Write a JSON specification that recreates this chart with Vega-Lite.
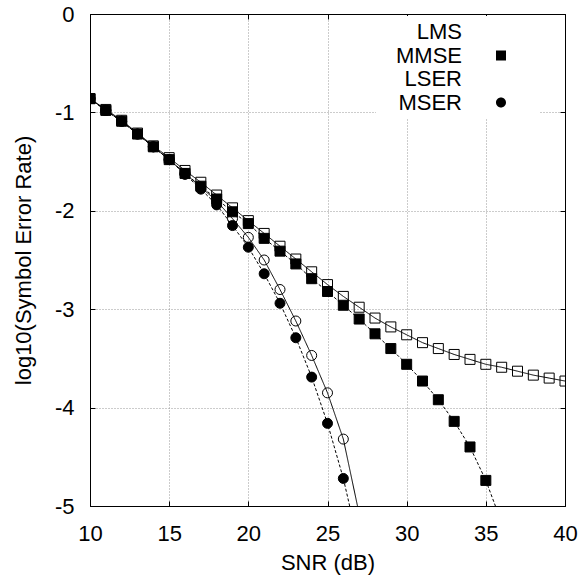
{
  "$schema": "https://vega.github.io/schema/vega-lite/v6.json",
  "autosize": "none",
  "width": 475,
  "height": 492,
  "padding": {"left": 90, "top": 14, "right": 15, "bottom": 75},
  "background": "white",
  "config": {
    "view": {"stroke": "black", "strokeWidth": 1},
    "font": "Liberation Sans",
    "axis": {
      "domainColor": "black",
      "tickColor": "black",
      "labelColor": "black",
      "titleColor": "black",
      "labelFont": "Liberation Sans",
      "titleFont": "Liberation Sans",
      "labelFontSize": 22,
      "titleFontSize": 22,
      "titleFontWeight": "normal",
      "gridColor": "#999999",
      "gridDash": [1, 2],
      "gridWidth": 1,
      "gridOpacity": 1,
      "tickSize": -5,
      "labelFlush": false
    },
    "legend": {
      "orient": "none",
      "legendX": 286,
      "legendY": 2,
      "padding": 5,
      "fillColor": "white",
      "labelAlign": "right",
      "labelOffset": -50,
      "symbolOffset": 109,
      "symbolSize": 100,
      "symbolStrokeColor": "black",
      "symbolStrokeWidth": 1,
      "symbolOpacity": 1,
      "rowPadding": 1.5,
      "labelFontSize": 22,
      "labelFont": "Liberation Sans",
      "labelColor": "black",
      "labelLimit": 200
    }
  },
  "data": {
    "values": [
      {"snr": 10, "ser": -0.86, "series": "LMS"},
      {"snr": 11, "ser": -0.97, "series": "LMS"},
      {"snr": 12, "ser": -1.08, "series": "LMS"},
      {"snr": 13, "ser": -1.21, "series": "LMS"},
      {"snr": 14, "ser": -1.34, "series": "LMS"},
      {"snr": 15, "ser": -1.46, "series": "LMS"},
      {"snr": 16, "ser": -1.59, "series": "LMS"},
      {"snr": 17, "ser": -1.71, "series": "LMS"},
      {"snr": 18, "ser": -1.84, "series": "LMS"},
      {"snr": 19, "ser": -1.97, "series": "LMS"},
      {"snr": 20, "ser": -2.10, "series": "LMS"},
      {"snr": 21, "ser": -2.23, "series": "LMS"},
      {"snr": 22, "ser": -2.36, "series": "LMS"},
      {"snr": 23, "ser": -2.49, "series": "LMS"},
      {"snr": 24, "ser": -2.62, "series": "LMS"},
      {"snr": 25, "ser": -2.75, "series": "LMS"},
      {"snr": 26, "ser": -2.87, "series": "LMS"},
      {"snr": 27, "ser": -2.98, "series": "LMS"},
      {"snr": 28, "ser": -3.09, "series": "LMS"},
      {"snr": 29, "ser": -3.18, "series": "LMS"},
      {"snr": 30, "ser": -3.26, "series": "LMS"},
      {"snr": 31, "ser": -3.34, "series": "LMS"},
      {"snr": 32, "ser": -3.40, "series": "LMS"},
      {"snr": 33, "ser": -3.46, "series": "LMS"},
      {"snr": 34, "ser": -3.51, "series": "LMS"},
      {"snr": 35, "ser": -3.56, "series": "LMS"},
      {"snr": 36, "ser": -3.59, "series": "LMS"},
      {"snr": 37, "ser": -3.63, "series": "LMS"},
      {"snr": 38, "ser": -3.67, "series": "LMS"},
      {"snr": 39, "ser": -3.70, "series": "LMS"},
      {"snr": 40, "ser": -3.73, "series": "LMS"},
      {"snr": 10, "ser": -0.86, "series": "MMSE"},
      {"snr": 11, "ser": -0.98, "series": "MMSE"},
      {"snr": 12, "ser": -1.09, "series": "MMSE"},
      {"snr": 13, "ser": -1.22, "series": "MMSE"},
      {"snr": 14, "ser": -1.35, "series": "MMSE"},
      {"snr": 15, "ser": -1.48, "series": "MMSE"},
      {"snr": 16, "ser": -1.62, "series": "MMSE"},
      {"snr": 17, "ser": -1.75, "series": "MMSE"},
      {"snr": 18, "ser": -1.88, "series": "MMSE"},
      {"snr": 19, "ser": -2.01, "series": "MMSE"},
      {"snr": 20, "ser": -2.13, "series": "MMSE"},
      {"snr": 21, "ser": -2.28, "series": "MMSE"},
      {"snr": 22, "ser": -2.41, "series": "MMSE"},
      {"snr": 23, "ser": -2.54, "series": "MMSE"},
      {"snr": 24, "ser": -2.69, "series": "MMSE"},
      {"snr": 25, "ser": -2.82, "series": "MMSE"},
      {"snr": 26, "ser": -2.96, "series": "MMSE"},
      {"snr": 27, "ser": -3.10, "series": "MMSE"},
      {"snr": 28, "ser": -3.25, "series": "MMSE"},
      {"snr": 29, "ser": -3.40, "series": "MMSE"},
      {"snr": 30, "ser": -3.56, "series": "MMSE"},
      {"snr": 31, "ser": -3.73, "series": "MMSE"},
      {"snr": 32, "ser": -3.92, "series": "MMSE"},
      {"snr": 33, "ser": -4.14, "series": "MMSE"},
      {"snr": 34, "ser": -4.40, "series": "MMSE"},
      {"snr": 35, "ser": -4.74, "series": "MMSE"},
      {"snr": 36, "ser": -5.17, "series": "MMSE"},
      {"snr": 10, "ser": -0.86, "series": "LSER"},
      {"snr": 11, "ser": -0.98, "series": "LSER"},
      {"snr": 12, "ser": -1.09, "series": "LSER"},
      {"snr": 13, "ser": -1.22, "series": "LSER"},
      {"snr": 14, "ser": -1.35, "series": "LSER"},
      {"snr": 15, "ser": -1.48, "series": "LSER"},
      {"snr": 16, "ser": -1.62, "series": "LSER"},
      {"snr": 17, "ser": -1.76, "series": "LSER"},
      {"snr": 18, "ser": -1.90, "series": "LSER"},
      {"snr": 19, "ser": -2.08, "series": "LSER"},
      {"snr": 20, "ser": -2.27, "series": "LSER"},
      {"snr": 21, "ser": -2.50, "series": "LSER"},
      {"snr": 22, "ser": -2.80, "series": "LSER"},
      {"snr": 23, "ser": -3.12, "series": "LSER"},
      {"snr": 24, "ser": -3.47, "series": "LSER"},
      {"snr": 25, "ser": -3.85, "series": "LSER"},
      {"snr": 26, "ser": -4.32, "series": "LSER"},
      {"snr": 27, "ser": -5.08, "series": "LSER"},
      {"snr": 10, "ser": -0.86, "series": "MSER"},
      {"snr": 11, "ser": -0.98, "series": "MSER"},
      {"snr": 12, "ser": -1.09, "series": "MSER"},
      {"snr": 13, "ser": -1.22, "series": "MSER"},
      {"snr": 14, "ser": -1.35, "series": "MSER"},
      {"snr": 15, "ser": -1.48, "series": "MSER"},
      {"snr": 16, "ser": -1.63, "series": "MSER"},
      {"snr": 17, "ser": -1.78, "series": "MSER"},
      {"snr": 18, "ser": -1.94, "series": "MSER"},
      {"snr": 19, "ser": -2.15, "series": "MSER"},
      {"snr": 20, "ser": -2.37, "series": "MSER"},
      {"snr": 21, "ser": -2.64, "series": "MSER"},
      {"snr": 22, "ser": -2.94, "series": "MSER"},
      {"snr": 23, "ser": -3.29, "series": "MSER"},
      {"snr": 24, "ser": -3.69, "series": "MSER"},
      {"snr": 25, "ser": -4.16, "series": "MSER"},
      {"snr": 26, "ser": -4.72, "series": "MSER"},
      {"snr": 27, "ser": -5.42, "series": "MSER"}
    ]
  },
  "resolve": {"scale": {"shape": "independent", "fill": "independent", "strokeDash": "independent"}},
  "layer": [
    {
      "mark": {"type": "line", "clip": true, "color": "black", "strokeWidth": 1},
      "encoding": {
        "x": {
          "field": "snr", "type": "quantitative",
          "scale": {"domain": [10, 40], "nice": false, "zero": false},
          "axis": {"orient": "top", "labels": false, "title": null, "grid": false, "values": [10, 15, 20, 25, 30, 35, 40]}
        },
        "y": {
          "field": "ser", "type": "quantitative",
          "scale": {"domain": [-5, 0], "nice": false, "zero": false},
          "axis": {"orient": "right", "labels": false, "title": null, "grid": false, "values": [-5, -4, -3, -2, -1, 0]}
        },
        "strokeDash": {
          "field": "series", "type": "nominal",
          "scale": {"domain": ["MMSE", "LMS", "MSER", "LSER"], "range": [[3, 2], [1, 0], [3, 2], [1, 0]]},
          "legend": null
        }
      }
    },
    {
      "mark": {"type": "point", "clip": true, "stroke": "black", "strokeWidth": 1, "opacity": 1, "strokeOpacity": 1, "fillOpacity": 1, "size": 100},
      "encoding": {
        "x": {
          "field": "snr", "type": "quantitative",
          "axis": {"orient": "bottom", "title": "SNR (dB)", "grid": true, "values": [10, 15, 20, 25, 30, 35, 40], "labelPadding": 22, "titlePadding": 8}
        },
        "y": {
          "field": "ser", "type": "quantitative",
          "axis": {"orient": "left", "title": "log10(Symbol Error Rate)", "grid": true, "values": [-5, -4, -3, -2, -1, 0], "labelPadding": 21, "titlePadding": 19, "labelExpr": "'' + datum.value"}
        },
        "shape": {
          "field": "series", "type": "nominal",
          "scale": {"domain": ["MMSE", "LMS", "MSER", "LSER"], "range": ["square", "square", "circle", "circle"]},
          "legend": null
        },
        "fill": {
          "field": "series", "type": "nominal",
          "scale": {"domain": ["MMSE", "LMS", "MSER", "LSER"], "range": ["black", "transparent", "black", "transparent"]},
          "legend": null
        }
      }
    },
    {
      "transform": [{"filter": "false"}],
      "mark": {"type": "point", "clip": true, "stroke": "black", "strokeWidth": 1, "opacity": 1, "strokeOpacity": 1, "fillOpacity": 1, "size": 100},
      "encoding": {
        "x": {"field": "snr", "type": "quantitative", "axis": null},
        "y": {"field": "ser", "type": "quantitative", "axis": null},
        "stroke": {"value": "black"},
        "shape": {
          "field": "series", "type": "nominal", "title": null,
          "scale": {"domain": ["LMS", "MMSE", "LSER", "MSER"], "range": ["M-6.2,0H6.2M-1,-1H1V1H-1Z", "M-6.2,0H6.2M-1,-1H1V1H-1Z", "M-6.2,0H6.2M-1,0A1,1,0,1,0,1,0A1,1,0,1,0,-1,0Z", "M-6.2,0H6.2M-1,0A1,1,0,1,0,1,0A1,1,0,1,0,-1,0Z"]},
          "legend": {"title": null}
        },
        "fill": {
          "field": "series", "type": "nominal", "title": null,
          "scale": {"domain": ["LMS", "MMSE", "LSER", "MSER"], "range": ["transparent", "black", "transparent", "black"]},
          "legend": {"title": null}
        },
        "strokeDash": {
          "field": "series", "type": "nominal", "title": null,
          "scale": {"domain": ["LMS", "MMSE", "LSER", "MSER"], "range": [[1, 0], [3, 2], [1, 0], [3, 2]]},
          "legend": {"title": null}
        }
      }
    }
  ]
}
